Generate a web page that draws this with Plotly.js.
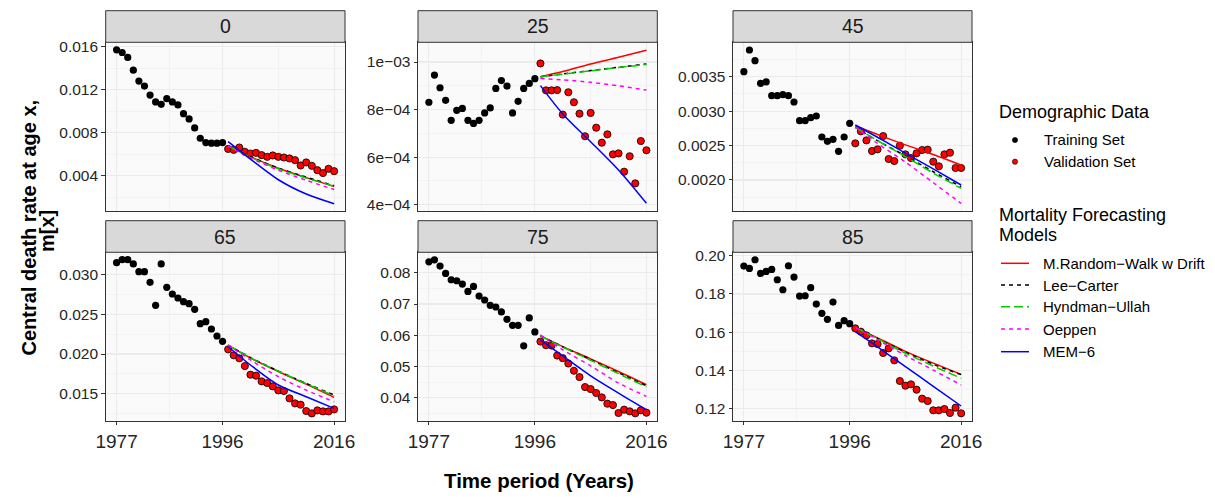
<!DOCTYPE html>
<html>
<head>
<meta charset="utf-8">
<script src="https://cdn.plot.ly/plotly-3.0.1.min.js"></script>
<style>html,body{margin:0;padding:0;background:#fff;}#chart{width:1215px;height:498px;}</style>
</head>
<body>
<div id="chart"></div>
<script>
// ---------- DATA ----------
const ages = ['0', '25', '45', '65', '75', '85'];
const trainYears = [1977,1978,1979,1980,1981,1982,1983,1984,1985,1986,1987,1988,1989,1990,1991,1992,1993,1994,1995,1996];
const valYears = [1997,1998,1999,2000,2001,2002,2003,2004,2005,2006,2007,2008,2009,2010,2011,2012,2013,2014,2015,2016];
const fcYears = [1997, 2001, 2006, 2011, 2016];
const xTickVals = [1977, 1996, 2016];
const xTickText = ['1977', '1996', '2016'];
const xMinorVals = [1986.5, 2006];

// age 0
const train0 = [0.01572,0.01547,0.01501,0.01383,0.01281,0.01235,0.01151,0.01087,0.01065,0.01117,0.01087,0.01059,0.00978,0.00929,0.00845,0.00749,0.00709,0.00703,0.00703,0.00709];
const val0 = [0.00650,0.00641,0.00663,0.00623,0.00607,0.00613,0.00592,0.00576,0.00589,0.00576,0.00570,0.00561,0.00545,0.00496,0.00524,0.00493,0.00452,0.00425,0.00465,0.00443];
const rwd0 = [0.00678,0.00578,0.00470,0.00383,0.00301];
const lc0  = [0.00678,0.00578,0.00472,0.00388,0.00307];
const hu0  = [0.00678,0.00572,0.00465,0.00380,0.00302];
const oep0 = [0.00678,0.00566,0.00452,0.00358,0.00272];
const mem0 = [0.00718,0.00555,0.00363,0.00230,0.00140];

// age 25
const train25 = [0.000831,0.000945,0.000892,0.000839,0.000755,0.000797,0.000805,0.000755,0.000742,0.000755,0.000786,0.000807,0.000889,0.000922,0.000899,0.000786,0.000835,0.000889,0.000910,0.000930];
const val25 = [0.000994,0.000881,0.000881,0.000882,0.000779,0.000873,0.000831,0.000783,0.000688,0.000786,0.000724,0.000661,0.000696,0.000612,0.000616,0.000539,0.000604,0.000490,0.000668,0.000629];
const rwd25 = [0.000938,0.000960,0.000992,0.001020,0.001050];
const lc25  = [0.000938,0.000950,0.000964,0.000978,0.000992];
const hu25  = [0.000938,0.000949,0.000963,0.000977,0.000990];
const oep25 = [0.000931,0.000925,0.000915,0.000900,0.000882];
const mem25 = [0.000901,0.000782,0.000665,0.000546,0.000406];

// age 45
const train45 = [0.003573,0.003887,0.003732,0.003403,0.003423,0.003224,0.003224,0.003239,0.003224,0.003132,0.002861,0.002861,0.002905,0.002929,0.002624,0.002561,0.002590,0.002416,0.002624,0.002822];
const val45 = [0.002532,0.002706,0.002575,0.002421,0.002445,0.002638,0.002304,0.002275,0.002498,0.002372,0.002319,0.002387,0.002435,0.002440,0.002266,0.002198,0.002372,0.002396,0.002174,0.002174];
const rwd45 = [0.002788,0.002660,0.002510,0.002370,0.002217];
const lc45  = [0.002764,0.002570,0.002350,0.002120,0.001902];
const hu45  = [0.002764,0.002570,0.002340,0.002100,0.001878];
const oep45 = [0.002774,0.002530,0.002260,0.001960,0.001660];
const mem45 = [0.002798,0.002620,0.002390,0.002160,0.001927];

// age 65
const train65 = [0.031513,0.031891,0.031891,0.031345,0.030378,0.030378,0.029034,0.026134,0.031345,0.028403,0.027563,0.027059,0.026597,0.026345,0.025630,0.023824,0.024076,0.023151,0.022269,0.021597];
const val65 = [0.020588,0.019832,0.019454,0.018487,0.017395,0.017269,0.016555,0.016345,0.015924,0.015420,0.015336,0.014412,0.013782,0.013613,0.012815,0.012521,0.012899,0.012773,0.012773,0.013025];
const rwd65 = [0.02113,0.01950,0.01780,0.01620,0.01454];
const lc65  = [0.02113,0.01955,0.01785,0.01630,0.01483];
const hu65  = [0.02113,0.01952,0.01783,0.01627,0.01471];
const oep65 = [0.02113,0.01925,0.01714,0.01545,0.01399];
const mem65 = [0.02092,0.01862,0.01610,0.01462,0.01315];

// age 75
const train75 = [0.08351,0.08415,0.08213,0.07979,0.07777,0.07745,0.07638,0.07404,0.07564,0.07255,0.07128,0.06957,0.06904,0.06745,0.06511,0.06319,0.06319,0.05660,0.06553,0.06106];
const val75 = [0.05798,0.05681,0.05670,0.05351,0.05267,0.05096,0.04863,0.04661,0.04342,0.04278,0.04151,0.04010,0.03809,0.03766,0.03512,0.03618,0.03564,0.03500,0.03596,0.03522];
const rwd75 = [0.05979,0.05638,0.05245,0.04841,0.04416];
const lc75  = [0.05979,0.05630,0.05220,0.04800,0.04384];
const hu75  = [0.05979,0.05620,0.05200,0.04770,0.04347];
const oep75 = [0.06011,0.05533,0.05022,0.04470,0.04042];
const mem75 = [0.05852,0.05341,0.04703,0.04151,0.03618];

// age 85
const train85 = [0.19460,0.19338,0.19791,0.19076,0.19181,0.19285,0.18745,0.18222,0.19477,0.18885,0.17891,0.17908,0.18327,0.17473,0.16985,0.16671,0.17577,0.16357,0.16601,0.16444];
const val85 = [0.16200,0.16026,0.15834,0.15416,0.15381,0.14911,0.15155,0.14527,0.13447,0.13203,0.13272,0.12994,0.12523,0.12401,0.11913,0.11913,0.11983,0.11774,0.12052,0.11756];
const rwd85 = [0.16253,0.15700,0.15000,0.14380,0.13795];
const lc85  = [0.16253,0.15670,0.14960,0.14320,0.13780];
const hu85  = [0.16253,0.15650,0.14900,0.14230,0.13586];
const oep85 = [0.16253,0.15600,0.14780,0.14020,0.13237];
const mem85 = [0.16026,0.15230,0.14200,0.13170,0.12139];

// y-axis ticks
const yTickVals = [
  [0.004,0.008,0.012,0.016],
  [0.0004,0.0006,0.0008,0.001],
  [0.002,0.0025,0.003,0.0035],
  [0.015,0.02,0.025,0.03],
  [0.04,0.05,0.06,0.07,0.08],
  [0.12,0.14,0.16,0.18,0.20]
];
const yTickText = [
  ['0.004','0.008','0.012','0.016'],
  ['4e\u221204','6e\u221204','8e\u221204','1e\u221203'],
  ['0.0020','0.0025','0.0030','0.0035'],
  ['0.015','0.020','0.025','0.030'],
  ['0.04','0.05','0.06','0.07','0.08'],
  ['0.12','0.14','0.16','0.18','0.20']
];
const yMinorVals = [
  [0.002,0.006,0.010,0.014],
  [0.0005,0.0007,0.0009],
  [0.00175,0.00225,0.00275,0.00325,0.00375],
  [0.0125,0.0175,0.0225,0.0275,0.0325],
  [0.035,0.045,0.055,0.065,0.075,0.085],
  [0.13,0.15,0.17,0.19]
];
const yRanges = [
  [0.00075, 0.01642],
  [0.000375, 0.001083],
  [0.001554, 0.003999],
  [0.0116, 0.032815],
  [0.03265, 0.08655],
  [0.1137, 0.2018]
];

const dataSets = [
  {train: train0,  val: val0,  rwd: rwd0,  lc: lc0,  hu: hu0,  oep: oep0,  mem: mem0},
  {train: train25, val: val25, rwd: rwd25, lc: lc25, hu: hu25, oep: oep25, mem: mem25},
  {train: train45, val: val45, rwd: rwd45, lc: lc45, hu: hu45, oep: oep45, mem: mem45},
  {train: train65, val: val65, rwd: rwd65, lc: lc65, hu: hu65, oep: oep65, mem: mem65},
  {train: train75, val: val75, rwd: rwd75, lc: lc75, hu: hu75, oep: oep75, mem: mem75},
  {train: train85, val: val85, rwd: rwd85, lc: lc85, hu: hu85, oep: oep85, mem: mem85}
];

const models = [
  {key: 'rwd', name: 'M.Random\u2212Walk w Drift', color: '#FF0000', dash: 'solid'},
  {key: 'lc',  name: 'Lee\u2212Carter',            color: '#000000', dash: '4px,4px'},
  {key: 'hu',  name: 'Hyndman\u2212Ullah',          color: '#00CD00', dash: '9px,4px'},
  {key: 'oep', name: 'Oeppen',                     color: '#FF00FF', dash: '4px,4px'},
  {key: 'mem', name: 'MEM\u22126',                  color: '#0000FF', dash: 'solid'}
];

// ---------- LAYOUT GEOMETRY ----------
const W = 1215, H = 498;
const px = v => v / W;
const py = v => 1 - v / H;
const cols = [[105.7, 345], [418, 657.3], [733, 972]];
const rows = [[42.3, 210.7], [252.3, 420.7]];
const strips = [[10.7, 42.3], [220.7, 252.3]];
const FONT = 'Liberation Sans, Arial, Helvetica, sans-serif';

const traces = [];
const layout = {
  width: W, height: H,
  margin: {l: 0, r: 0, t: 0, b: 0, pad: 0},
  paper_bgcolor: '#FFFFFF',
  plot_bgcolor: '#FAFAFA',
  showlegend: false,
  font: {family: FONT, color: '#000'},
  shapes: [],
  annotations: []
};

for (let i = 0; i < 6; i++) {
  const r = Math.floor(i / 3), c = i % 3;
  const sfx = i === 0 ? '' : String(i + 1);
  const xa = 'x' + sfx, ya = 'y' + sfx;
  const d = dataSets[i];

  traces.push({
    type: 'scatter', mode: 'markers', x: trainYears, y: d.train, xaxis: xa, yaxis: ya,
    marker: {color: '#000000', size: 7.2}, hoverinfo: 'skip'
  });
  traces.push({
    type: 'scatter', mode: 'markers', x: valYears, y: d.val, xaxis: xa, yaxis: ya,
    marker: {color: '#FF0000', size: 7.2, line: {color: '#000000', width: 0.8}}, hoverinfo: 'skip'
  });
  models.forEach(m => {
    traces.push({
      type: 'scatter', mode: 'lines', x: fcYears, y: d[m.key], xaxis: xa, yaxis: ya,
      line: {color: m.color, width: 1.5, dash: m.dash, shape: 'spline', smoothing: 0.8},
      hoverinfo: 'skip'
    });
  });

  layout['xaxis' + sfx] = {
    domain: [px(cols[c][0]), px(cols[c][1])],
    anchor: ya,
    range: [1975.05, 2017.95],
    autorange: false,
    tickmode: 'array', tickvals: xTickVals, ticktext: xTickText,
    showticklabels: r === 1,
    ticks: r === 1 ? 'outside' : '',
    ticklen: 3.5, tickwidth: 1, tickcolor: '#333333',
    tickfont: {family: FONT, size: 19, color: '#262626'},
    showgrid: true, gridcolor: '#EBEBEB', gridwidth: 1.1,
    minor: {tickmode: 'array', tickvals: xMinorVals, showgrid: true, gridcolor: '#EFEFEF', gridwidth: 0.6, ticks: ''},
    showline: true, mirror: true, linecolor: '#333333', linewidth: 1,
    zeroline: false, fixedrange: true
  };
  layout['yaxis' + sfx] = {
    domain: [py(rows[r][1]), py(rows[r][0])],
    anchor: xa,
    range: yRanges[i],
    autorange: false,
    tickmode: 'array', tickvals: yTickVals[i], ticktext: yTickText[i],
    ticks: 'outside', ticklen: 3.5, tickwidth: 1, tickcolor: '#333333',
    tickfont: {family: FONT, size: 15.5, color: '#262626'},
    showgrid: true, gridcolor: '#EBEBEB', gridwidth: 1.1,
    minor: {tickmode: 'array', tickvals: yMinorVals[i], showgrid: true, gridcolor: '#EFEFEF', gridwidth: 0.6, ticks: ''},
    showline: true, mirror: true, linecolor: '#333333', linewidth: 1,
    zeroline: false, fixedrange: true
  };

  // strip
  layout.shapes.push({
    type: 'rect', xref: 'paper', yref: 'paper',
    x0: px(cols[c][0]), x1: px(cols[c][1]), y0: py(strips[r][1]), y1: py(strips[r][0]),
    fillcolor: '#D9D9D9', line: {color: '#333333', width: 1}, layer: 'above'
  });
  layout.annotations.push({
    xref: 'paper', yref: 'paper',
    x: px((cols[c][0] + cols[c][1]) / 2), y: py((strips[r][0] + strips[r][1]) / 2),
    xanchor: 'center', yanchor: 'middle', showarrow: false,
    text: ages[i], font: {family: FONT, size: 19.5, color: '#1A1A1A'}
  });
}

// axis titles
layout.annotations.push({
  xref: 'paper', yref: 'paper', x: px(539), y: py(480), xanchor: 'center', yanchor: 'middle',
  showarrow: false, text: '<b>Time period (Years)</b>', font: {family: FONT, size: 20.5, color: '#000'}
});
layout.annotations.push({
  xref: 'paper', yref: 'paper', x: px(28.5), y: py(228), xanchor: 'center', yanchor: 'middle',
  showarrow: false, textangle: -90, text: '<b>Central death rate at age x,</b>', font: {family: FONT, size: 20, color: '#000'}
});
layout.annotations.push({
  xref: 'paper', yref: 'paper', x: px(47), y: py(231), xanchor: 'center', yanchor: 'middle',
  showarrow: false, textangle: -90, text: '<b>m[x]</b>', font: {family: FONT, size: 20, color: '#000'}
});

// legends (manual)
const legTitleFont = {family: FONT, size: 18, color: '#000'};
const legLabelFont = {family: FONT, size: 15, color: '#000'};
layout.annotations.push({xref: 'paper', yref: 'paper', x: px(997), y: py(111.5), xanchor: 'left', yanchor: 'middle', showarrow: false, text: 'Demographic Data', font: legTitleFont});
const demoItems = [
  {name: 'Training Set', y: 140, fill: '#000000'},
  {name: 'Validation Set', y: 161.7, fill: '#FF0000'}
];
demoItems.forEach(it => {
  layout.shapes.push({
    type: 'circle', xref: 'paper', yref: 'paper', xsizemode: 'pixel', ysizemode: 'pixel',
    xanchor: px(1015), yanchor: py(it.y), x0: -2.6, x1: 2.6, y0: -2.6, y1: 2.6,
    fillcolor: it.fill, line: {color: '#000000', width: 0.6}
  });
  layout.annotations.push({xref: 'paper', yref: 'paper', x: px(1041.5), y: py(it.y), xanchor: 'left', yanchor: 'middle', showarrow: false, text: it.name, font: legLabelFont});
});
layout.annotations.push({xref: 'paper', yref: 'paper', x: px(997), y: py(215), xanchor: 'left', yanchor: 'middle', showarrow: false, text: 'Mortality Forecasting', font: legTitleFont});
layout.annotations.push({xref: 'paper', yref: 'paper', x: px(997), y: py(235), xanchor: 'left', yanchor: 'middle', showarrow: false, text: 'Models', font: legTitleFont});
const modelY = [263.3, 285, 306.7, 329, 351.7];
models.forEach((m, k) => {
  layout.shapes.push({
    type: 'line', xref: 'paper', yref: 'paper', x0: px(1001), x1: px(1029), y0: py(modelY[k]), y1: py(modelY[k]),
    line: {color: m.color, width: 1.5, dash: m.dash}
  });
  layout.annotations.push({xref: 'paper', yref: 'paper', x: px(1041), y: py(modelY[k]), xanchor: 'left', yanchor: 'middle', showarrow: false, text: m.name, font: legLabelFont});
});

Plotly.newPlot('chart', traces, layout, {displayModeBar: false, staticPlot: true});
</script>
</body>
</html>
